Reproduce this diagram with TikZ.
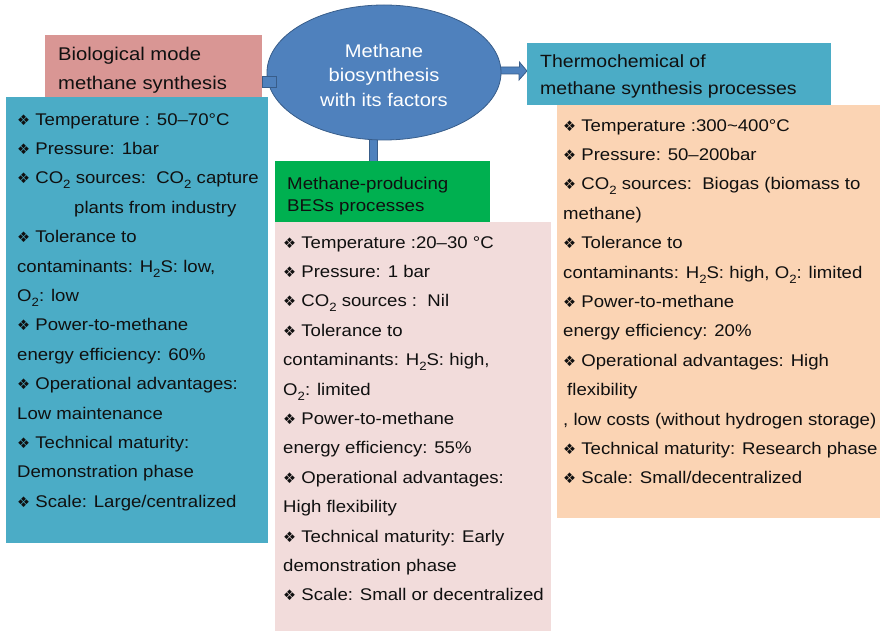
\documentclass[tikz,border=0pt]{standalone}
\usepackage{fontspec}
\setmainfont[FakeStretch=1.1]{Liberation Sans}
\newfontfamily\symfont{DejaVu Sans}
\usetikzlibrary{shapes.geometric, calc}
\pgfdeclarelayer{back}
\pgfsetlayers{back, main}
\definecolor{bioHead}{HTML}{D99694}
\definecolor{cyanBox}{HTML}{4BACC6}
\definecolor{coreFill}{HTML}{4F81BD}
\definecolor{coreLine}{HTML}{385D8A}
\definecolor{besHead}{HTML}{00B050}
\definecolor{besBox}{HTML}{F2DCDB}
\definecolor{thermoBox}{HTML}{FBD4B4}
\definecolor{ink}{HTML}{101010}
\newcommand\bul{{\symfont\fontsize{14.5}{12}\selectfont ❖}\ }
\newcommand\chsub[1]{\raisebox{-.3em}{\fontsize{12}{12}\selectfont #1}}

\begin{document}
\begin{tikzpicture}[x=1pt, y=-1pt,
    panel/.style={anchor=north west, inner sep=0, outer sep=0},
    listtext/.style={anchor=north west, inner sep=0, align=left, text=ink,
      font=\fontsize{16.9}{29.4}\selectfont},
    headtext/.style={anchor=north west, inner sep=0, align=left, text=ink},
    stub/.style={fill=coreFill, draw=coreLine, line width=.8pt}]
    \useasboundingbox (0, 0) rectangle (880, 631);
    % heads and boxes
    \node [panel, fill=bioHead, minimum width=217, minimum height=63] (bio-head) at (45, 35) {};
    \node [panel, fill=cyanBox, minimum width=262, minimum height=446] (bio-box) at (6, 97) {};
    \node [panel, fill=besHead, minimum width=215, minimum height=62] (bes-head) at (275, 161) {};
    \node [panel, fill=besBox, minimum width=276, minimum height=409] (bes-box) at (275, 222) {};
    \node [panel, fill=cyanBox, minimum width=304, minimum height=62] (thermo-head) at (527, 43) {};
    \node [panel, fill=thermoBox, minimum width=323, minimum height=413] (thermo-box) at (557, 105) {};
    \node [ellipse, fill=coreFill, draw=coreLine, line width=.8pt, minimum width=234,
      minimum height=135, inner sep=0, align=center, text=white,
      font=\fontsize{18.3}{24.5}\selectfont] (core) at (384, 72.5)
      {\rule{0pt}{19pt}Methane\\biosynthesis\\with its factors};
    % links
    \filldraw [stub] ($(bio-head.east)+(0, 9.5)$) rectangle ($(core.west)+(10, 14.5)$);
    \begin{pgfonlayer}{back}
    \filldraw [stub] ($(core.south)+(-15, -12)$) rectangle ($(bes-head.north)+(-5.5, 1)$);
    \filldraw [stub] ($(core.east)+(-8, -5.5)$) -- ++(26, 0) -- ++(0, -5) --
      ($(thermo-head.west)+(0, -3)$) -- ++(-8, 9) -- ++(0, -6) -- ++(-26, 0) -- cycle;
    \end{pgfonlayer}
    % titles
    \node [headtext, font=\fontsize{18.4}{29}\selectfont] (bio-title) at (58, 46.8)
      {Biological mode\\methane synthesis};
    \node [headtext, font=\fontsize{17}{22}\selectfont] (bes-title) at (287, 176.8)
      {Methane-producing\\BESs processes};
    \node [headtext, font=\fontsize{17.7}{27}\selectfont] (thermo-title) at (540, 54.3)
      {Thermochemical of\\methane synthesis processes};
    % factor lists
    \node [listtext] (bio-list) at (17, 113) {%
      \bul Temperature : 50–70°C\\
      \bul Pressure: 1bar\\
      \bul CO\chsub{2} sources:\ \ CO\chsub{2} capture\\
      \hspace*{57pt}plants from industry\\
      \bul Tolerance to\\
      contaminants: H\chsub{2}S: low,\\
      O\chsub{2}: low\\
      \bul Power-to-methane\\
      energy efficiency: 60\%\\
      \bul Operational advantages:\\
      Low maintenance\\
      \bul Technical maturity:\\
      Demonstration phase\\
      \bul Scale: Large/centralized};
    \node [listtext] (bes-list) at (283, 236) {%
      \bul Temperature :20–30 °C\\
      \bul Pressure: 1 bar\\
      \bul CO\chsub{2} sources :\ \ Nil\\
      \bul Tolerance to\\
      contaminants: H\chsub{2}S: high,\\
      O\chsub{2}: limited\\
      \bul Power-to-methane\\
      energy efficiency: 55\%\\
      \bul Operational advantages:\\
      High flexibility\\
      \bul Technical maturity: Early\\
      demonstration phase\\
      \bul Scale: Small or decentralized};
    \node [listtext] (thermo-list) at (563, 119) {%
      \bul Temperature :300{\char"7E}400°C\\
      \bul Pressure: 50–200bar\\
      \bul CO\chsub{2} sources:\ \ Biogas (biomass to\\
      methane)\\
      \bul Tolerance to\\
      contaminants: H\chsub{2}S: high, O\chsub{2}: limited\\
      \bul Power-to-methane\\
      energy efficiency: 20\%\\
      \bul Operational advantages: High\\
      \hspace*{4pt}flexibility\\
      , low costs (without hydrogen storage)\\
      \bul Technical maturity: Research phase\\
      \bul Scale: Small/decentralized};
\end{tikzpicture}
\end{document}
